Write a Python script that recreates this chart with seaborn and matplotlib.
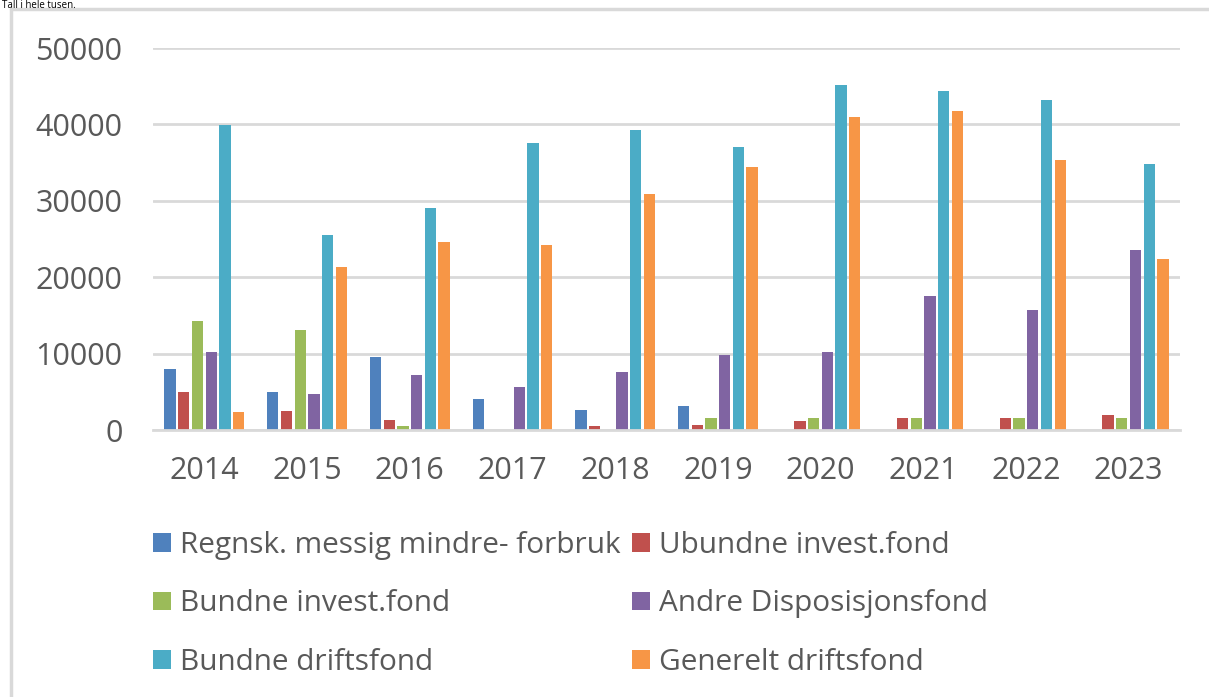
import matplotlib
matplotlib.use("Agg")
import matplotlib.pyplot as plt
from matplotlib.patches import Patch
from matplotlib.lines import Line2D
import seaborn as sns
import pandas as pd

years = ["2014", "2015", "2016", "2017", "2018", "2019", "2020", "2021", "2022", "2023"]
series_names = [
    "Regnsk. messig mindre- forbruk",
    "Ubundne invest.fond",
    "Bundne invest.fond",
    "Andre Disposisjonsfond",
    "Bundne driftsfond",
    "Generelt driftsfond",
]
regnsk = [8000, 4950, 9600, 4030, 2670, 3100, 0, 0, 0, 0]
ubundne_invest = [5000, 2540, 1360, 0, 470, 700, 1180, 1580, 1580, 2010]
bundne_invest = [14250, 13100, 480, 0, 0, 1580, 1580, 1580, 1580, 1580]
andre_dispfond = [10200, 4740, 7150, 5570, 7580, 9780, 10210, 17580, 15750, 23500]
bundne_drift = [39950, 25470, 29080, 37500, 39250, 37050, 45210, 44340, 43240, 34780]
generelt_drift = [2300, 21300, 24600, 24160, 30830, 34420, 41000, 41710, 35300, 22410]
yticks = [0, 10000, 20000, 30000, 40000, 50000]
colors = ["#4F81BD", "#C0504D", "#9BBB59", "#8064A2", "#4BACC6", "#F79646"]

all_series = [regnsk, ubundne_invest, bundne_invest, andre_dispfond, bundne_drift, generelt_drift]
rows = []
for name, vals in zip(series_names, all_series):
    for y, v in zip(years, vals):
        rows.append({"Year": y, "Series": name, "Value": v})
df = pd.DataFrame(rows)

sns.set_theme(style="white")
plt.rcParams["font.family"] = ["Open Sans", "DejaVu Sans"]

fig = plt.figure(figsize=(12.09, 6.97), dpi=100)
ax = fig.add_axes([153 / 1209, 1 - 430 / 697, (1180 - 153) / 1209, (430 - 48) / 697])

sns.barplot(data=df, x="Year", y="Value", hue="Series", order=years,
            hue_order=series_names, palette=colors, saturation=1, width=0.8, gap=0.17,
            linewidth=0, ax=ax, legend=False)

grid_c = "#D9D9D9"
ax.set_ylim(0, 50000)
ax.set_xlim(-0.5, len(years) - 0.5)
ax.set_yticks(yticks)
ax.set_yticklabels([str(t) for t in yticks])
ax.yaxis.grid(True, color=grid_c, linewidth=2)
ax.set_axisbelow(True)
for s in ["top", "right", "left"]:
    ax.spines[s].set_visible(False)
ax.spines["bottom"].set_color(grid_c)
ax.spines["bottom"].set_linewidth(2)
ax.set_xlabel("")
ax.set_ylabel("")
ax.tick_params(axis="both", length=0, colors="#595959", labelsize=22)
ax.tick_params(axis="y", pad=22)
ax.tick_params(axis="x", pad=19)

order = [0, 2, 4, 1, 3, 5]
handles = [Patch(facecolor=colors[i], edgecolor="none") for i in order]
labels = [series_names[i] for i in order]
leg = fig.legend(handles, labels, ncol=2, loc="upper left",
                 bbox_to_anchor=(126 / 1209, 1 - 504 / 697),
                 frameon=False, fontsize=21.4, handlelength=0.6, handleheight=0.6,
                 handletextpad=0.3, columnspacing=0.4, labelspacing=1.0,
                 labelcolor="#595959")

# outer frame (left and top borders)
fig.add_artist(Line2D([11 / 1209, 11 / 1209], [0, 1 - 9 / 697], transform=fig.transFigure,
                      color=grid_c, linewidth=2.5))
fig.add_artist(Line2D([11 / 1209, 1], [1 - 9 / 697, 1 - 9 / 697], transform=fig.transFigure,
                      color=grid_c, linewidth=2.5))

fig.text(2 / 1209, 1.0, "Tall i hele tusen.", fontsize=7, color="black",
         ha="left", va="top")

fig.savefig("out.png", dpi=100)
